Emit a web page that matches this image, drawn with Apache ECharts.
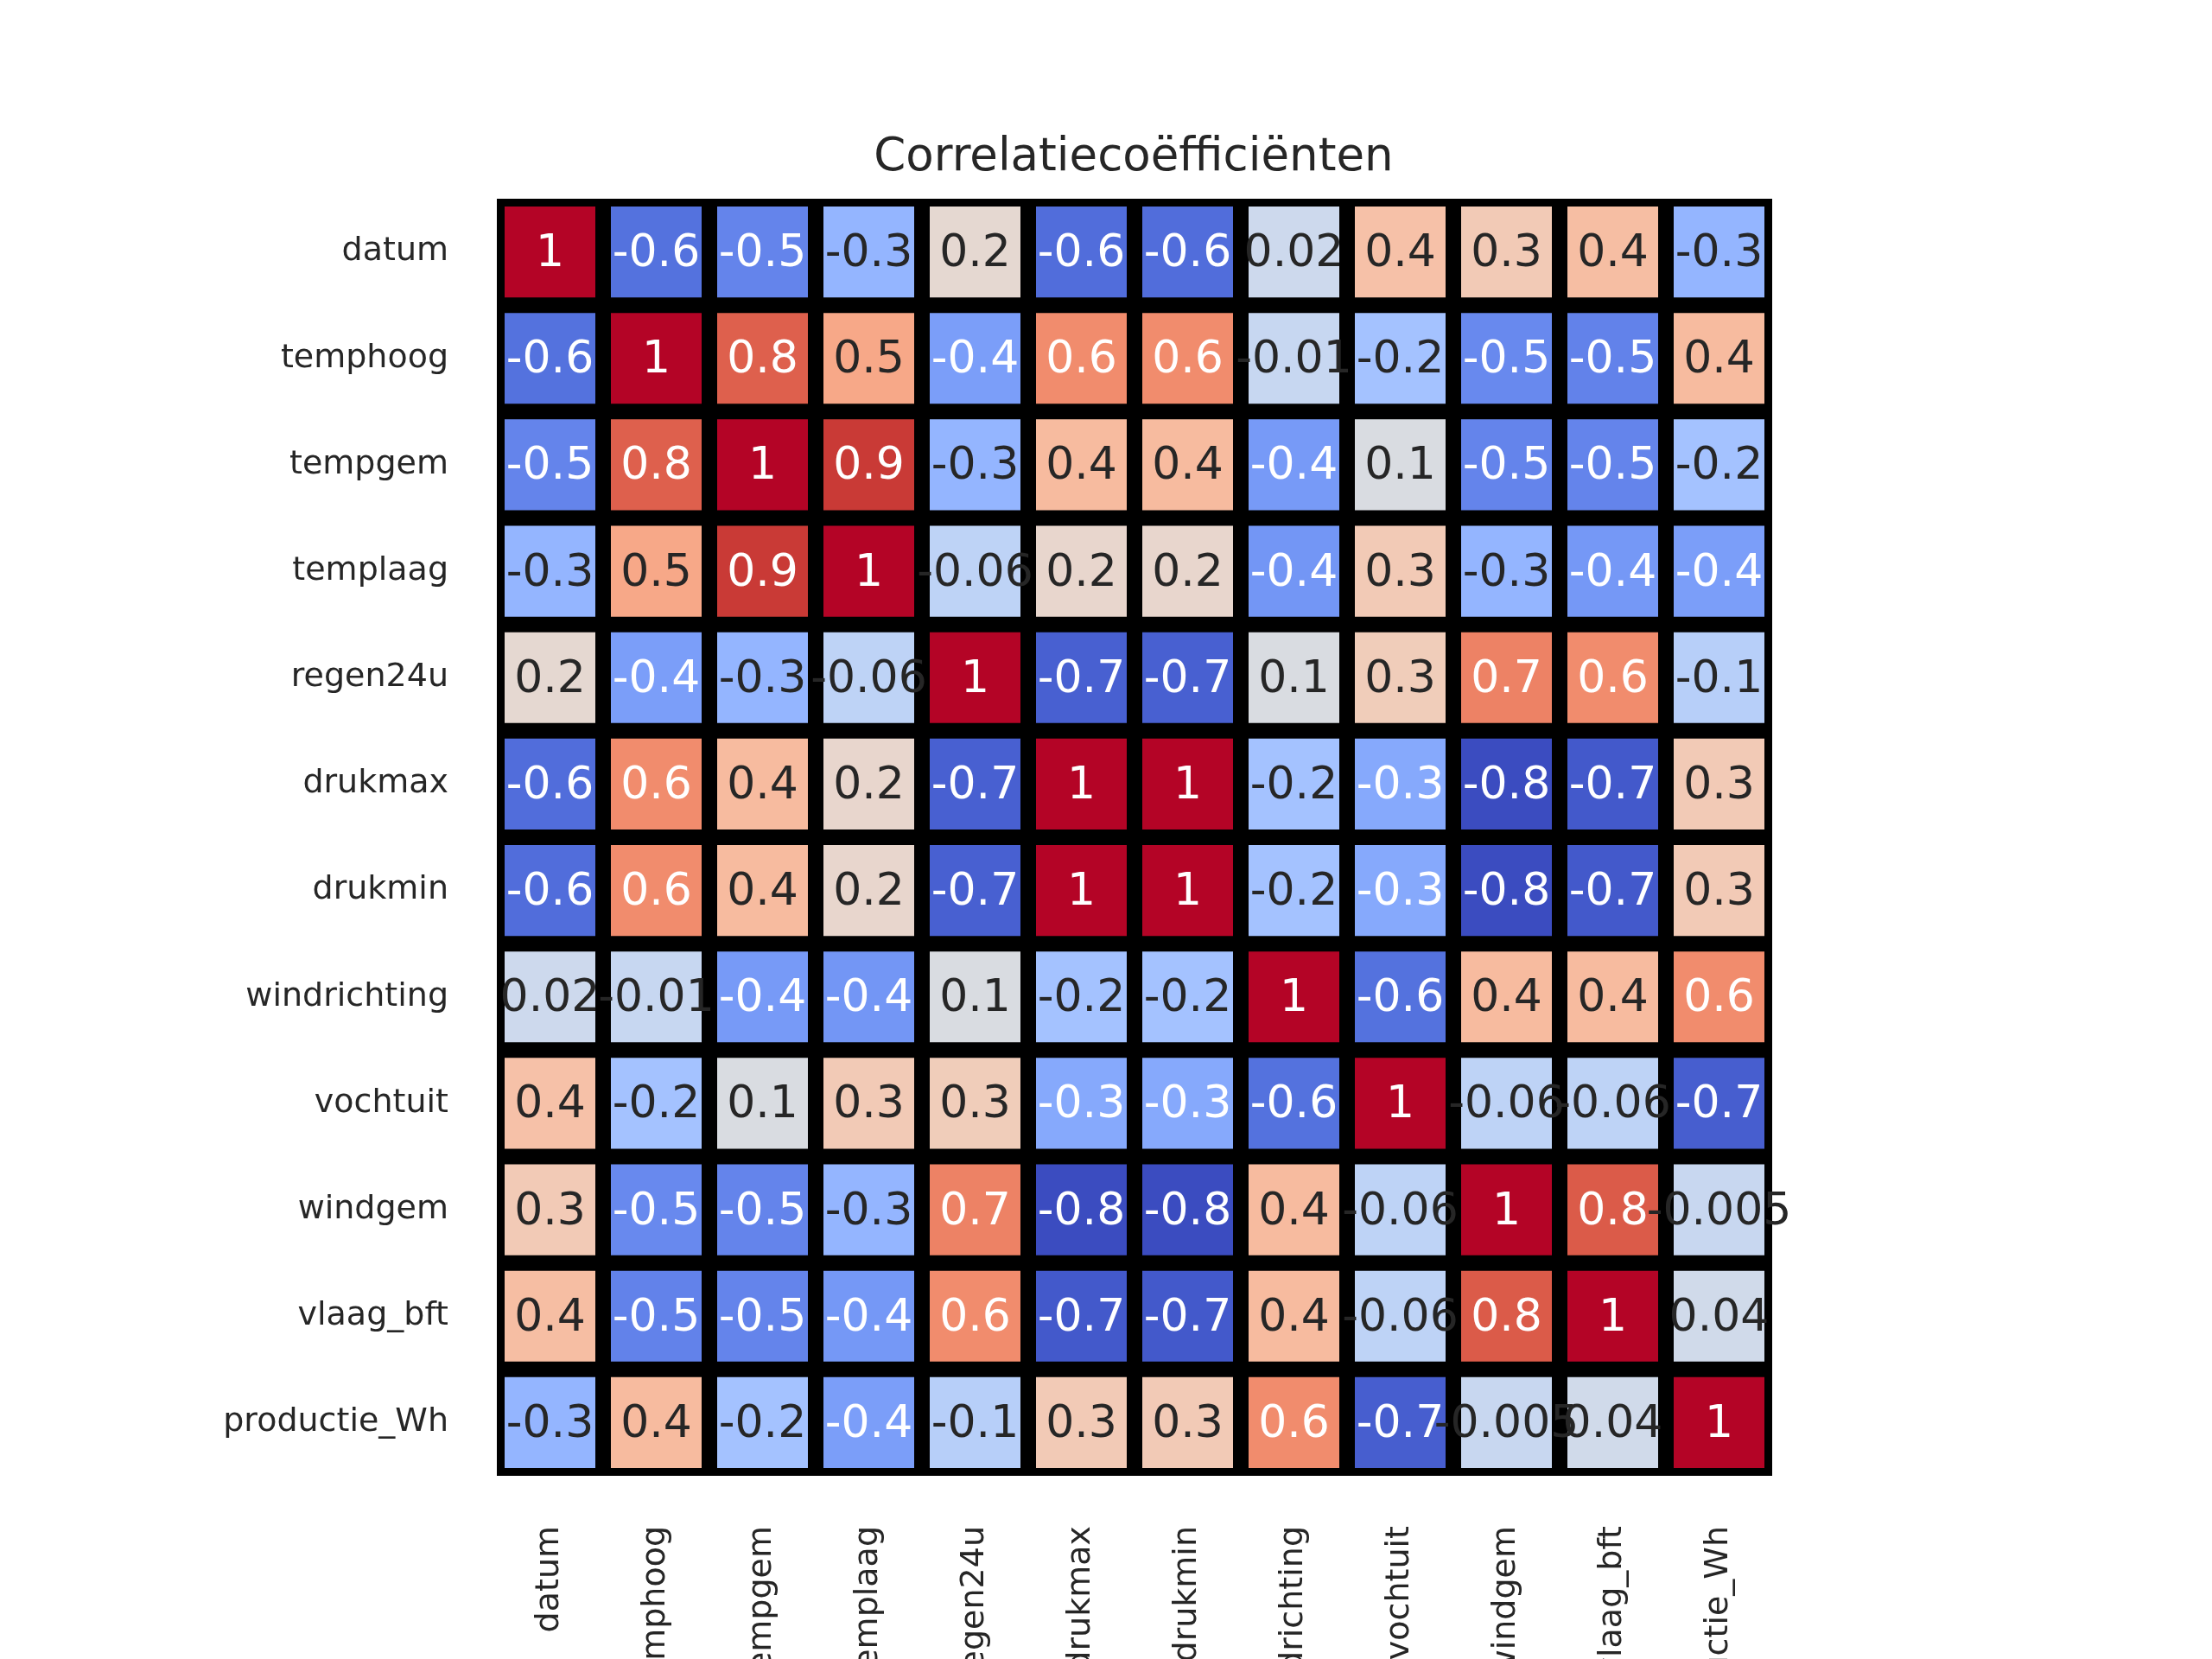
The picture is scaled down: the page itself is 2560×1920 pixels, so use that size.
<!DOCTYPE html>
<html>
<head>
<meta charset="utf-8">
<title>Correlatiecoëfficiënten</title>
<script src="https://cdn.jsdelivr.net/npm/echarts@6/dist/echarts.min.js"></script>
<style>
  html, body { margin: 0; padding: 0; background: #fff; }
  #chart { width: 2560px; height: 1920px; }
</style>
</head>
<body>
<div id="chart"></div>
<script>
// kolommen van de correlatiematrix (zelfde volgorde voor x en y)
var variabelen = ['datum', 'temphoog', 'tempgem', 'templaag', 'regen24u', 'drukmax',
    'drukmin', 'windrichting', 'vochtuit', 'windgem', 'vlaag_bft', 'productie_Wh'];

// correlaties per rij
var rDatum       = [1, -0.6, -0.52, -0.28, 0.18, -0.62, -0.62, 0.02, 0.36, 0.3, 0.38, -0.28];
var rTemphoog    = [-0.6, 1, 0.78, 0.5, -0.4, 0.62, 0.62, -0.01, -0.2, -0.5, -0.53, 0.4];
var rTempgem     = [-0.52, 0.78, 1, 0.9, -0.28, 0.4, 0.4, -0.42, 0.1, -0.52, -0.52, -0.2];
var rTemplaag    = [-0.28, 0.5, 0.9, 1, -0.06, 0.2, 0.2, -0.44, 0.3, -0.28, -0.43, -0.4];
var rRegen24u    = [0.18, -0.4, -0.28, -0.06, 1, -0.67, -0.67, 0.1, 0.28, 0.66, 0.62, -0.1];
var rDrukmax     = [-0.62, 0.62, 0.4, 0.2, -0.67, 1, 1, -0.2, -0.349, -0.75, -0.7, 0.3];
var rDrukmin     = [-0.62, 0.62, 0.4, 0.2, -0.67, 1, 1, -0.2, -0.349, -0.75, -0.7, 0.3];
var rWindrichting = [0.02, -0.01, -0.42, -0.44, 0.1, -0.2, -0.2, 1, -0.6, 0.4, 0.4, 0.62];
var rVochtuit    = [0.36, -0.2, 0.1, 0.3, 0.28, -0.349, -0.349, -0.6, 1, -0.06, -0.06, -0.68];
var rWindgem     = [0.3, -0.5, -0.52, -0.28, 0.66, -0.75, -0.75, 0.4, -0.06, 1, 0.8, -0.005];
var rVlaagBft    = [0.38, -0.53, -0.52, -0.43, 0.62, -0.7, -0.7, 0.4, -0.06, 0.8, 1, 0.04];
var rProductieWh = [-0.28, 0.4, -0.2, -0.4, -0.1, 0.3, 0.3, 0.62, -0.68, -0.005, 0.04, 1];

var rijen = [rDatum, rTemphoog, rTempgem, rTemplaag, rRegen24u, rDrukmax, rDrukmin,
    rWindrichting, rVochtuit, rWindgem, rVlaagBft, rProductieWh];

// coolwarm kleurenschaal (33 stappen)
var coolwarm = ['#3b4cc0', '#445acc', '#4d68d7', '#5775e1', '#6282ea', '#6c8ef1', '#779af7',
    '#82a5fb', '#8db0fe', '#98b9ff', '#a3c2ff', '#aec9fd', '#b8d0f9', '#c2d5f4', '#ccd9ee',
    '#d5dbe6', '#dddddd', '#e5d8d1', '#ecd3c5', '#f1ccb8', '#f5c4ac', '#f7bb9f', '#f7b193',
    '#f7a686', '#f49a7a', '#f18d6e', '#ec7f63', '#e57058', '#de604d', '#d55042', '#cb3e38',
    '#c0282f', '#b40426'];

var data = [];
for (var i = 0; i < rijen.length; i++) {
    for (var j = 0; j < rijen[i].length; j++) {
        data.push([j, i, rijen[i][j]]);
    }
}

// net als '.1g' in python
var formatWaarde = function (v) {
    return Number(v).toPrecision(1).replace(/\.?0+e/, 'e');
};

var luminantie = function (kleur) {
    var rgb;
    if (kleur.charAt(0) == '#') {
        rgb = [parseInt(kleur.substr(1, 2), 16), parseInt(kleur.substr(3, 2), 16), parseInt(kleur.substr(5, 2), 16)];
    } else {
        rgb = kleur.match(/[\d.]+/g).slice(0, 3).map(Number);
    }
    var lin = rgb.map(function (c) {
        c = c / 255;
        return c <= 0.03928 ? c / 12.92 : Math.pow((c + 0.055) / 1.055, 2.4);
    });
    return 0.2126 * lin[0] + 0.7152 * lin[1] + 0.0722 * lin[2];
};

var renderCel = function (params, api) {
    var punt = api.coord([api.value(0), api.value(1)]);
    var maat = api.size([1, 1]);
    var kleur = api.visual('color');
    var rand = 9;
    return {
        type: 'group',
        children: [
            {
                type: 'rect',
                shape: {
                    x: punt[0] - maat[0] / 2 + rand,
                    y: punt[1] - maat[1] / 2 + rand,
                    width: maat[0] - 2 * rand,
                    height: maat[1] - 2 * rand
                },
                style: { fill: kleur }
            },
            {
                type: 'text',
                z2: 100,
                x: punt[0],
                y: punt[1] + 3,
                style: {
                    text: formatWaarde(api.value(2)),
                    fill: luminantie(kleur) > 0.408 ? '#262626' : '#ffffff',
                    font: '52px "DejaVu Sans"',
                    align: 'center',
                    verticalAlign: 'middle'
                }
            }
        ]
    };
};

var myChart = echarts.init(document.getElementById('chart'));
var option = {
    backgroundColor: '#ffffff',
    animation: false,
    title: {
        text: 'Correlatiecoëfficiënten',
        left: 1307,
        textAlign: 'center',
        top: 152,
        textStyle: {
            fontFamily: 'DejaVu Sans',
            fontSize: 53,
            fontWeight: 'normal',
            color: '#262626'
        }
    },
    grid: {
        left: 575,
        top: 230,
        width: 1476,
        height: 1478,
        containLabel: false,
        outerBoundsMode: 'none',
        show: true,
        backgroundColor: '#000000',
        borderWidth: 0
    },
    xAxis: {
        type: 'category',
        data: variabelen,
        axisLine: { show: false },
        axisTick: { show: false },
        splitLine: { show: false },
        axisLabel: {
            interval: 0,
            rotate: 90,
            margin: 58,
            fontFamily: 'DejaVu Sans',
            fontSize: 38,
            color: '#262626'
        }
    },
    yAxis: {
        type: 'category',
        data: variabelen,
        inverse: true,
        axisLine: { show: false },
        axisTick: { show: false },
        splitLine: { show: false },
        axisLabel: {
            interval: 0,
            margin: 56,
            padding: [6, 0, 0, 0],
            fontFamily: 'DejaVu Sans',
            fontSize: 38,
            color: '#262626'
        }
    },
    visualMap: {
        show: false,
        type: 'continuous',
        dimension: 2,
        min: -0.75,
        max: 1,
        inRange: { color: coolwarm }
    },
    series: [
        {
            type: 'custom',
            renderItem: renderCel,
            encode: { x: 0, y: 1 },
            data: data
        }
    ]
};
myChart.setOption(option);
</script>
</body>
</html>
